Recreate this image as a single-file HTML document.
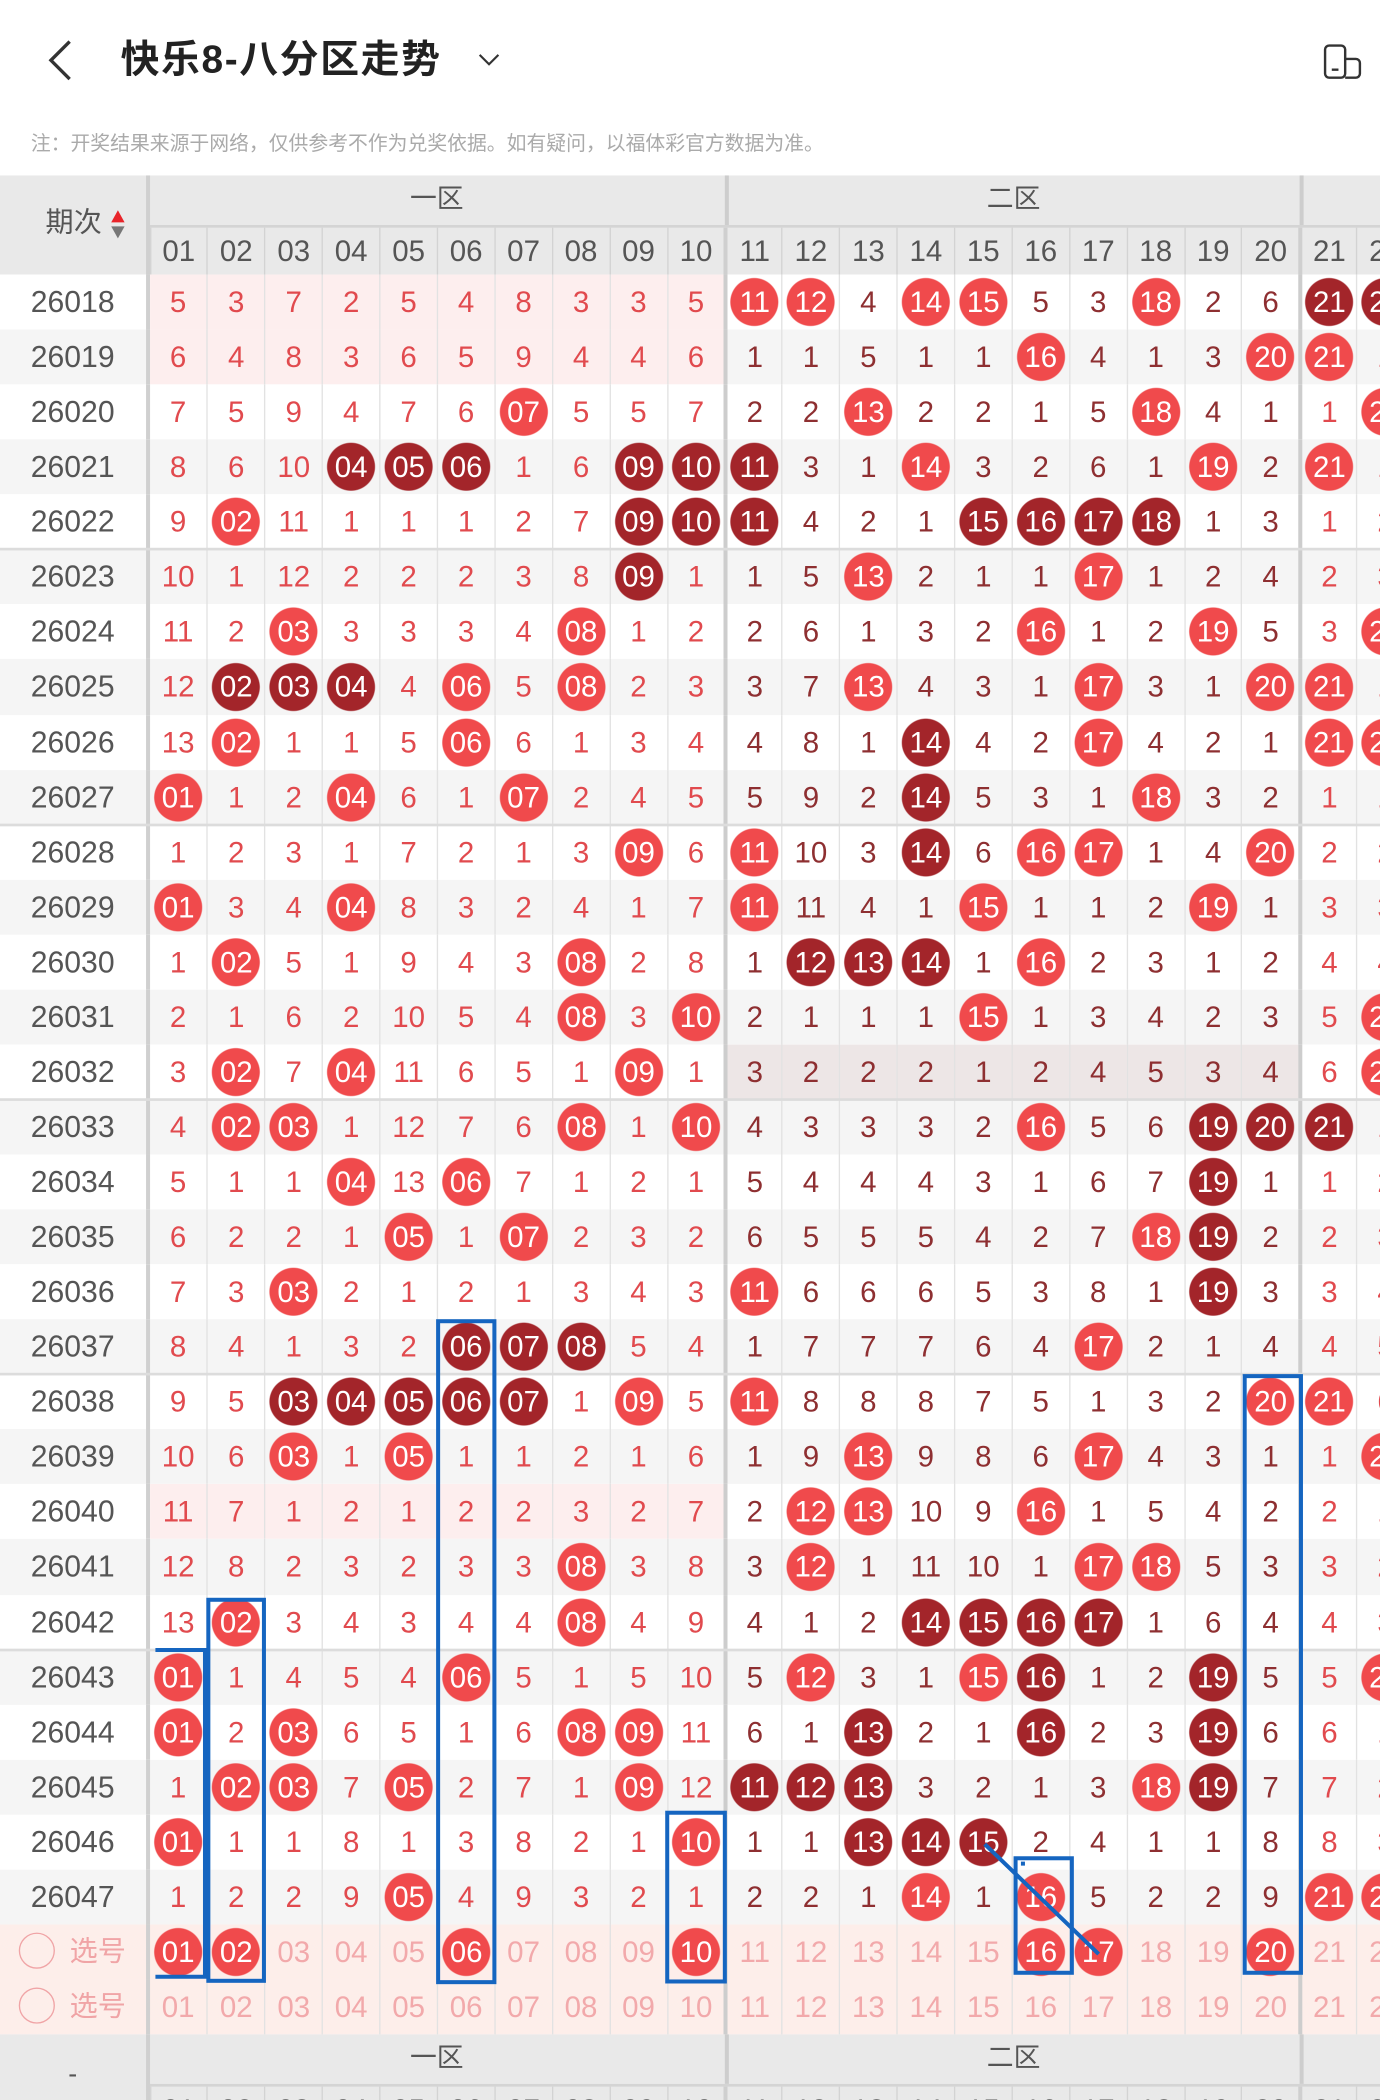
<!DOCTYPE html>
<html><head><meta charset="utf-8">
<style>
*{margin:0;padding:0;box-sizing:border-box}
html,body{width:1380px;height:2100px;overflow:hidden;background:#fff}
#w{position:absolute;left:0;top:0;width:1030px;height:1568px;transform:scale(1.33981,1.33929);transform-origin:0 0;overflow:hidden;font-family:"Liberation Sans","Noto Sans CJK SC",sans-serif}
.title{position:absolute;left:90px;top:25px;font-size:29px;font-weight:bold;color:#222;line-height:40px;letter-spacing:1.2px}
.note{position:absolute;left:23px;top:98px;font-size:14.8px;color:#aaa;line-height:20px;white-space:nowrap}
.hd{position:absolute;left:0;top:131px;width:1030px;height:74px;background:#e9e9e9}
.ft{position:absolute;left:0;top:1519px;width:1030px;height:49px;background:#e9e9e9}
.zl{position:absolute;top:0;height:37px;line-height:37px;font-size:20px;color:#555;text-align:center}
.nh{position:absolute;left:111.5px;top:37px;height:37px;display:flex;border-top:2px solid #d4d4d4}
.nh span{width:42.9px;flex:none;text-align:center;font-size:22px;line-height:35px;color:#555;border-left:1px solid #d3d3d3}
.nh span:nth-child(11),.nh span:nth-child(21){border-left:3px solid #cfcfcf}
#rows{position:absolute;left:0;top:205px;width:1080px}
.r{position:relative;height:41.07px;display:flex;background:#fff}
.r:nth-child(even){background:#f5f5f5}
.r.g::after{content:"";position:absolute;left:0;right:0;bottom:-1px;height:2px;background:#dcdcdc;z-index:2}
.id{width:111.5px;flex:none;text-align:center;font-size:22.5px;line-height:42px;color:#555;border-right:3px solid #d0d0d0}
.c{display:flex}
.c>*{width:42.9px;flex:none;height:41.07px;line-height:42px;text-align:center;font-size:22px;font-style:normal;font-weight:normal;color:#e14a4e;border-left:1px solid #e2e2e2}
.c>*:first-child{border-left:none}
.c>*:nth-child(11),.c>*:nth-child(21){border-left:3px solid #cdcdcd}
.c>*:nth-child(n+11):nth-child(-n+20){color:#8e2f31}
.c>b{color:#fff!important;background:radial-gradient(circle at 50% 50%,#f04a4c 17.5px,rgba(240,74,76,0) 18.3px)}
.c>i{color:#fff!important;background:radial-gradient(circle at 50% 50%,#a3252a 17.5px,rgba(163,37,42,0) 18.3px)}
.pk .c>*:nth-child(-n+10){background-color:#fdeeee}
.pk .c>b:nth-child(-n+10){background:radial-gradient(circle at 50% 50%,#f04a4c 17.5px,#fdeeee 18.3px)}
.gz .c>*:nth-child(n+11):nth-child(-n+20){background-color:#ede6e6}
.r.sel{background:#fdeeea!important}
.sel .id{color:#f0a4a6;font-size:21px;text-align:left;padding-left:14px}
.sel .id em{display:inline-block;width:27px;height:27px;border:1.5px solid #f0a4a6;border-radius:50%;vertical-align:middle;margin-right:11px;margin-top:-4px}
.sel .c>span{color:#f2a9ab!important}
</style></head><body><div id="w">
<svg style="position:absolute;left:0;top:0" width="1030" height="80">
<polyline points="52,31 38,45 52,59" fill="none" stroke="#333" stroke-width="2.5"/>
<polyline points="358,41 365,48 372,41" fill="none" stroke="#333" stroke-width="1.6"/>
<rect x="989" y="34" width="15" height="24" rx="3" fill="none" stroke="#333" stroke-width="1.8"/>
<path d="M1004 44 h8 a3 3 0 0 1 3 3 v8 a3 3 0 0 1 -3 3 h-8" fill="none" stroke="#333" stroke-width="1.8"/>
<line x1="994" y1="52" x2="999" y2="52" stroke="#333" stroke-width="1.8"/>
</svg>
<div class="title">快乐8-八分区走势</div>
<div class="note">注：开奖结果来源于网络，仅供参考不作为兑奖依据。如有疑问，以福体彩官方数据为准。</div>

<div class="hd">
<div style="position:absolute;left:0;top:0;width:111.5px;height:74px;border-right:3px solid #d0d0d0"></div>
<div style="position:absolute;left:34px;top:22px;font-size:21px;color:#555;line-height:28px">期次</div>
<svg style="position:absolute;left:82px;top:25px" width="12" height="24"><polygon points="6,1 11,10 1,10" fill="#e8242a"/><polygon points="1,13 11,13 6,22" fill="#777"/></svg>
<div class="zl" style="left:111.5px;width:429px">一区</div>
<div class="zl" style="left:540.5px;width:429px;border-left:3px solid #cdcdcd">二区</div>
<div class="zl" style="left:969.5px;width:70px;border-left:3px solid #cdcdcd"></div>
<div class="nh"><span>01</span><span>02</span><span>03</span><span>04</span><span>05</span><span>06</span><span>07</span><span>08</span><span>09</span><span>10</span><span>11</span><span>12</span><span>13</span><span>14</span><span>15</span><span>16</span><span>17</span><span>18</span><span>19</span><span>20</span><span>21</span><span>22</span></div>
</div>

<div id="rows">
<div class="r pk"><div class="id">26018</div><div class="c"><span>5</span><span>3</span><span>7</span><span>2</span><span>5</span><span>4</span><span>8</span><span>3</span><span>3</span><span>5</span><b>11</b><b>12</b><span>4</span><b>14</b><b>15</b><span>5</span><span>3</span><b>18</b><span>2</span><span>6</span><i>21</i><i>22</i></div></div>
<div class="r pk"><div class="id">26019</div><div class="c"><span>6</span><span>4</span><span>8</span><span>3</span><span>6</span><span>5</span><span>9</span><span>4</span><span>4</span><span>6</span><span>1</span><span>1</span><span>5</span><span>1</span><span>1</span><b>16</b><span>4</span><span>1</span><span>3</span><b>20</b><b>21</b><span>1</span></div></div>
<div class="r"><div class="id">26020</div><div class="c"><span>7</span><span>5</span><span>9</span><span>4</span><span>7</span><span>6</span><b>07</b><span>5</span><span>5</span><span>7</span><span>2</span><span>2</span><b>13</b><span>2</span><span>2</span><span>1</span><span>5</span><b>18</b><span>4</span><span>1</span><span>1</span><b>22</b></div></div>
<div class="r"><div class="id">26021</div><div class="c"><span>8</span><span>6</span><span>10</span><i>04</i><i>05</i><i>06</i><span>1</span><span>6</span><i>09</i><i>10</i><i>11</i><span>3</span><span>1</span><b>14</b><span>3</span><span>2</span><span>6</span><span>1</span><b>19</b><span>2</span><b>21</b><span>1</span></div></div>
<div class="r g"><div class="id">26022</div><div class="c"><span>9</span><b>02</b><span>11</span><span>1</span><span>1</span><span>1</span><span>2</span><span>7</span><i>09</i><i>10</i><i>11</i><span>4</span><span>2</span><span>1</span><i>15</i><i>16</i><i>17</i><i>18</i><span>1</span><span>3</span><span>1</span><span>2</span></div></div>
<div class="r"><div class="id">26023</div><div class="c"><span>10</span><span>1</span><span>12</span><span>2</span><span>2</span><span>2</span><span>3</span><span>8</span><i>09</i><span>1</span><span>1</span><span>5</span><b>13</b><span>2</span><span>1</span><span>1</span><b>17</b><span>1</span><span>2</span><span>4</span><span>2</span><span>3</span></div></div>
<div class="r"><div class="id">26024</div><div class="c"><span>11</span><span>2</span><b>03</b><span>3</span><span>3</span><span>3</span><span>4</span><b>08</b><span>1</span><span>2</span><span>2</span><span>6</span><span>1</span><span>3</span><span>2</span><b>16</b><span>1</span><span>2</span><b>19</b><span>5</span><span>3</span><b>22</b></div></div>
<div class="r"><div class="id">26025</div><div class="c"><span>12</span><i>02</i><i>03</i><i>04</i><span>4</span><b>06</b><span>5</span><b>08</b><span>2</span><span>3</span><span>3</span><span>7</span><b>13</b><span>4</span><span>3</span><span>1</span><b>17</b><span>3</span><span>1</span><b>20</b><b>21</b><span>1</span></div></div>
<div class="r"><div class="id">26026</div><div class="c"><span>13</span><b>02</b><span>1</span><span>1</span><span>5</span><b>06</b><span>6</span><span>1</span><span>3</span><span>4</span><span>4</span><span>8</span><span>1</span><i>14</i><span>4</span><span>2</span><b>17</b><span>4</span><span>2</span><span>1</span><b>21</b><b>22</b></div></div>
<div class="r g"><div class="id">26027</div><div class="c"><b>01</b><span>1</span><span>2</span><b>04</b><span>6</span><span>1</span><b>07</b><span>2</span><span>4</span><span>5</span><span>5</span><span>9</span><span>2</span><i>14</i><span>5</span><span>3</span><span>1</span><b>18</b><span>3</span><span>2</span><span>1</span><span>1</span></div></div>
<div class="r"><div class="id">26028</div><div class="c"><span>1</span><span>2</span><span>3</span><span>1</span><span>7</span><span>2</span><span>1</span><span>3</span><b>09</b><span>6</span><b>11</b><span>10</span><span>3</span><i>14</i><span>6</span><b>16</b><b>17</b><span>1</span><span>4</span><b>20</b><span>2</span><span>2</span></div></div>
<div class="r"><div class="id">26029</div><div class="c"><b>01</b><span>3</span><span>4</span><b>04</b><span>8</span><span>3</span><span>2</span><span>4</span><span>1</span><span>7</span><b>11</b><span>11</span><span>4</span><span>1</span><b>15</b><span>1</span><span>1</span><span>2</span><b>19</b><span>1</span><span>3</span><span>3</span></div></div>
<div class="r"><div class="id">26030</div><div class="c"><span>1</span><b>02</b><span>5</span><span>1</span><span>9</span><span>4</span><span>3</span><b>08</b><span>2</span><span>8</span><span>1</span><i>12</i><i>13</i><i>14</i><span>1</span><b>16</b><span>2</span><span>3</span><span>1</span><span>2</span><span>4</span><span>4</span></div></div>
<div class="r"><div class="id">26031</div><div class="c"><span>2</span><span>1</span><span>6</span><span>2</span><span>10</span><span>5</span><span>4</span><b>08</b><span>3</span><b>10</b><span>2</span><span>1</span><span>1</span><span>1</span><b>15</b><span>1</span><span>3</span><span>4</span><span>2</span><span>3</span><span>5</span><b>22</b></div></div>
<div class="r g gz"><div class="id">26032</div><div class="c"><span>3</span><b>02</b><span>7</span><b>04</b><span>11</span><span>6</span><span>5</span><span>1</span><b>09</b><span>1</span><span>3</span><span>2</span><span>2</span><span>2</span><span>1</span><span>2</span><span>4</span><span>5</span><span>3</span><span>4</span><span>6</span><b>22</b></div></div>
<div class="r"><div class="id">26033</div><div class="c"><span>4</span><b>02</b><b>03</b><span>1</span><span>12</span><span>7</span><span>6</span><b>08</b><span>1</span><b>10</b><span>4</span><span>3</span><span>3</span><span>3</span><span>2</span><b>16</b><span>5</span><span>6</span><i>19</i><i>20</i><i>21</i><span>1</span></div></div>
<div class="r"><div class="id">26034</div><div class="c"><span>5</span><span>1</span><span>1</span><b>04</b><span>13</span><b>06</b><span>7</span><span>1</span><span>2</span><span>1</span><span>5</span><span>4</span><span>4</span><span>4</span><span>3</span><span>1</span><span>6</span><span>7</span><i>19</i><span>1</span><span>1</span><span>2</span></div></div>
<div class="r"><div class="id">26035</div><div class="c"><span>6</span><span>2</span><span>2</span><span>1</span><b>05</b><span>1</span><b>07</b><span>2</span><span>3</span><span>2</span><span>6</span><span>5</span><span>5</span><span>5</span><span>4</span><span>2</span><span>7</span><b>18</b><i>19</i><span>2</span><span>2</span><span>3</span></div></div>
<div class="r"><div class="id">26036</div><div class="c"><span>7</span><span>3</span><b>03</b><span>2</span><span>1</span><span>2</span><span>1</span><span>3</span><span>4</span><span>3</span><b>11</b><span>6</span><span>6</span><span>6</span><span>5</span><span>3</span><span>8</span><span>1</span><i>19</i><span>3</span><span>3</span><span>4</span></div></div>
<div class="r g"><div class="id">26037</div><div class="c"><span>8</span><span>4</span><span>1</span><span>3</span><span>2</span><i>06</i><i>07</i><i>08</i><span>5</span><span>4</span><span>1</span><span>7</span><span>7</span><span>7</span><span>6</span><span>4</span><b>17</b><span>2</span><span>1</span><span>4</span><span>4</span><span>5</span></div></div>
<div class="r"><div class="id">26038</div><div class="c"><span>9</span><span>5</span><i>03</i><i>04</i><i>05</i><i>06</i><i>07</i><span>1</span><b>09</b><span>5</span><b>11</b><span>8</span><span>8</span><span>8</span><span>7</span><span>5</span><span>1</span><span>3</span><span>2</span><b>20</b><b>21</b><span>6</span></div></div>
<div class="r"><div class="id">26039</div><div class="c"><span>10</span><span>6</span><b>03</b><span>1</span><b>05</b><span>1</span><span>1</span><span>2</span><span>1</span><span>6</span><span>1</span><span>9</span><b>13</b><span>9</span><span>8</span><span>6</span><b>17</b><span>4</span><span>3</span><span>1</span><span>1</span><b>22</b></div></div>
<div class="r pk"><div class="id">26040</div><div class="c"><span>11</span><span>7</span><span>1</span><span>2</span><span>1</span><span>2</span><span>2</span><span>3</span><span>2</span><span>7</span><span>2</span><b>12</b><b>13</b><span>10</span><span>9</span><b>16</b><span>1</span><span>5</span><span>4</span><span>2</span><span>2</span><span>1</span></div></div>
<div class="r"><div class="id">26041</div><div class="c"><span>12</span><span>8</span><span>2</span><span>3</span><span>2</span><span>3</span><span>3</span><b>08</b><span>3</span><span>8</span><span>3</span><b>12</b><span>1</span><span>11</span><span>10</span><span>1</span><b>17</b><b>18</b><span>5</span><span>3</span><span>3</span><span>2</span></div></div>
<div class="r g"><div class="id">26042</div><div class="c"><span>13</span><b>02</b><span>3</span><span>4</span><span>3</span><span>4</span><span>4</span><b>08</b><span>4</span><span>9</span><span>4</span><span>1</span><span>2</span><i>14</i><i>15</i><i>16</i><i>17</i><span>1</span><span>6</span><span>4</span><span>4</span><span>3</span></div></div>
<div class="r"><div class="id">26043</div><div class="c"><b>01</b><span>1</span><span>4</span><span>5</span><span>4</span><b>06</b><span>5</span><span>1</span><span>5</span><span>10</span><span>5</span><b>12</b><span>3</span><span>1</span><b>15</b><i>16</i><span>1</span><span>2</span><i>19</i><span>5</span><span>5</span><b>22</b></div></div>
<div class="r"><div class="id">26044</div><div class="c"><b>01</b><span>2</span><b>03</b><span>6</span><span>5</span><span>1</span><span>6</span><b>08</b><b>09</b><span>11</span><span>6</span><span>1</span><i>13</i><span>2</span><span>1</span><i>16</i><span>2</span><span>3</span><i>19</i><span>6</span><span>6</span><span>1</span></div></div>
<div class="r"><div class="id">26045</div><div class="c"><span>1</span><b>02</b><b>03</b><span>7</span><b>05</b><span>2</span><span>7</span><span>1</span><b>09</b><span>12</span><i>11</i><i>12</i><i>13</i><span>3</span><span>2</span><span>1</span><span>3</span><b>18</b><i>19</i><span>7</span><span>7</span><span>2</span></div></div>
<div class="r"><div class="id">26046</div><div class="c"><b>01</b><span>1</span><span>1</span><span>8</span><span>1</span><span>3</span><span>8</span><span>2</span><span>1</span><b>10</b><span>1</span><span>1</span><i>13</i><i>14</i><i>15</i><span>2</span><span>4</span><span>1</span><span>1</span><span>8</span><span>8</span><span>3</span></div></div>
<div class="r"><div class="id">26047</div><div class="c"><span>1</span><span>2</span><span>2</span><span>9</span><b>05</b><span>4</span><span>9</span><span>3</span><span>2</span><span>1</span><span>2</span><span>2</span><span>1</span><b>14</b><span>1</span><b>16</b><span>5</span><span>2</span><span>2</span><span>9</span><b>21</b><b>22</b></div></div>
<div class="r sel"><div class="id"><em></em>选号</div><div class="c"><b>01</b><b>02</b><span>03</span><span>04</span><span>05</span><b>06</b><span>07</span><span>08</span><span>09</span><b>10</b><span>11</span><span>12</span><span>13</span><span>14</span><span>15</span><b>16</b><b>17</b><span>18</span><span>19</span><b>20</b><span>21</span><span>22</span></div></div>
<div class="r sel"><div class="id"><em></em>选号</div><div class="c"><span>01</span><span>02</span><span>03</span><span>04</span><span>05</span><span>06</span><span>07</span><span>08</span><span>09</span><span>10</span><span>11</span><span>12</span><span>13</span><span>14</span><span>15</span><span>16</span><span>17</span><span>18</span><span>19</span><span>20</span><span>21</span><span>22</span></div></div>
</div>

<div class="ft">
<div style="position:absolute;left:0;top:0;width:111.5px;height:49px;border-right:3px solid #d0d0d0;text-align:center;font-size:20px;color:#555;line-height:60px">-</div>
<div class="zl" style="left:111.5px;width:429px">一区</div>
<div class="zl" style="left:540.5px;width:429px;border-left:3px solid #cdcdcd">二区</div>
<div class="zl" style="left:969.5px;width:70px;border-left:3px solid #cdcdcd"></div>
<div class="nh"><span>01</span><span>02</span><span>03</span><span>04</span><span>05</span><span>06</span><span>07</span><span>08</span><span>09</span><span>10</span><span>11</span><span>12</span><span>13</span><span>14</span><span>15</span><span>16</span><span>17</span><span>18</span><span>19</span><span>20</span><span>21</span><span>22</span></div>
</div>

<svg style="position:absolute;left:0;top:0;z-index:5" width="1030" height="1568" fill="none" stroke="#1565c0" stroke-width="3">
<polyline points="116,1232 153,1232 153,1476 116,1476"/>
<rect x="155.5" y="1194.5" width="41.5" height="284.5"/>
<rect x="327" y="986.5" width="42" height="493.5"/>
<rect x="498" y="1353.5" width="43" height="126"/>
<rect x="758" y="1387.5" width="42" height="85.5"/>
<rect x="929" y="1027.5" width="42" height="445.5"/>
<line x1="735" y1="1377" x2="820" y2="1459"/>
<rect x="762" y="1390" width="3" height="3" fill="#1565c0" stroke="none"/>
</svg>
</div></body></html>
